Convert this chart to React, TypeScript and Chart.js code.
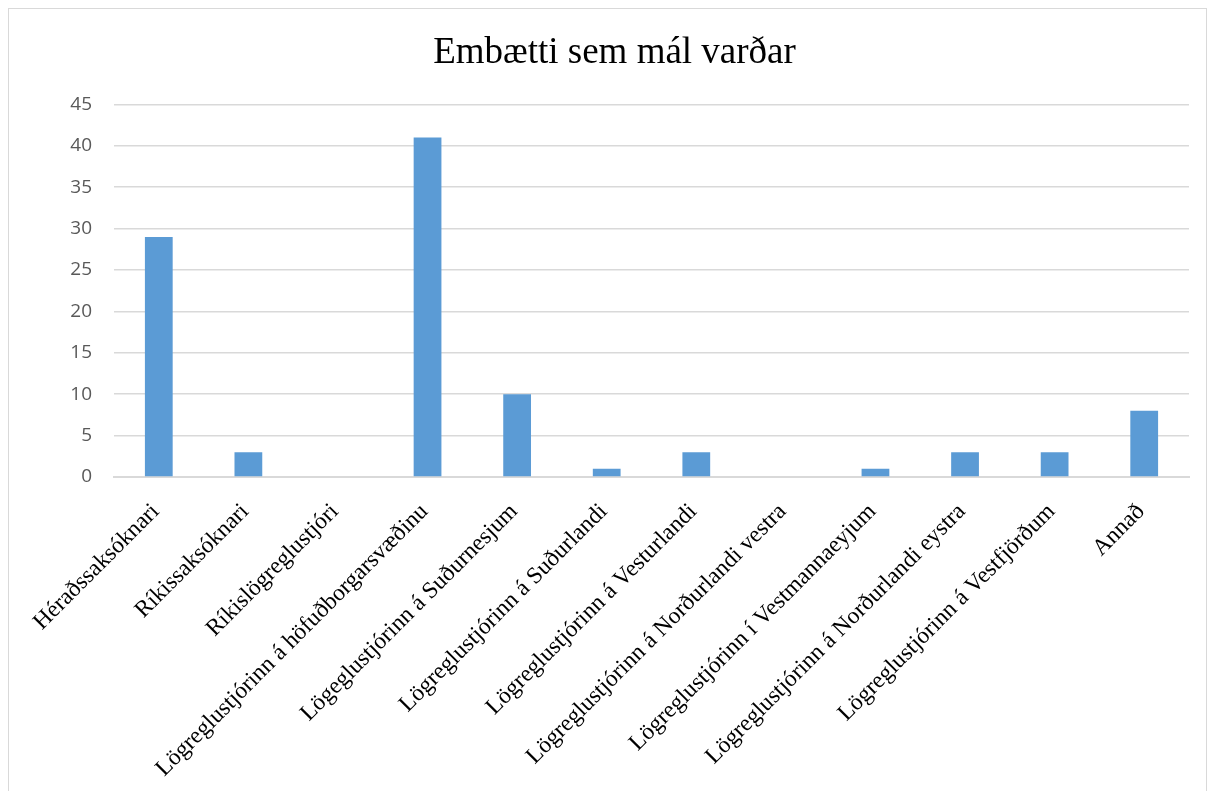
import React, { useEffect, useRef } from "react";
import { Chart, registerables } from "chart.js";

Chart.register(...registerables);

const titleText = "Embætti sem mál varðar";
const categories = [
  "Héraðssaksóknari",
  "Ríkissaksóknari",
  "Ríkislögreglustjóri",
  "Lögreglustjórinn á höfuðborgarsvæðinu",
  "Lögeglustjórinn á Suðurnesjum",
  "Lögreglustjórinn á Suðurlandi",
  "Lögreglustjórinn á Vesturlandi",
  "Lögreglustjórinn á Norðurlandi vestra",
  "Lögreglustjórinn í Vestmannaeyjum",
  "Lögreglustjórinn á Norðurlandi eystra",
  "Lögreglustjórinn á Vestfjörðum",
  "Annað",
];
const values = [29, 3, 0, 41, 10, 1, 3, 0, 1, 3, 3, 8];
const yMin = 0;
const yMax = 45;
const yStep = 5;

export default function App() {
  const ref = useRef<HTMLCanvasElement | null>(null);

  useEffect(() => {
    document.documentElement.style.overflow = "hidden";
    const canvas = ref.current;
    if (!canvas) return;
    const chart = new Chart(canvas, {
      type: "bar",
      data: {
        labels: categories,
        datasets: [
          {
            data: values,
            backgroundColor: "#5B9BD5",
            borderWidth: 0,
            barPercentage: 0.31,
            categoryPercentage: 1,
          },
        ],
      },
      options: {
        animation: false,
        responsive: false,
        devicePixelRatio: 1,
        layout: { padding: { left: 31, right: 17, top: 0, bottom: 0 } },
        plugins: {
          legend: { display: false },
          tooltip: { enabled: false },
          title: {
            display: true,
            text: titleText,
            color: "#000000",
            font: { family: "'Liberation Serif', 'Times New Roman', serif", size: 37, weight: "normal" },
            padding: { top: 22, bottom: 29 },
          },
        },
        scales: {
          x: {
            afterFit: (scale: any) => {
              scale.height = 313;
            },
            grid: { display: false, drawTicks: false },
            border: { display: true, color: "#d9d9d9", width: 2 },
            ticks: {
              color: "#000000",
              font: { family: "'Liberation Serif', 'Times New Roman', serif", size: 23.5 },
              minRotation: 45,
              maxRotation: 45,
              autoSkip: false,
              padding: 21,
              labelOffset: -3,
            },
          },
          y: {
            min: yMin,
            max: yMax,
            afterFit: (scale: any) => {
              scale.width = 74;
            },
            grid: { color: "#d9d9d9", lineWidth: 1.5, drawTicks: false },
            border: { display: false },
            ticks: {
              stepSize: yStep,
              color: "#595959",
              font: { family: "'Open Sans', 'Liberation Sans', sans-serif", size: 19 },
              padding: 22,
            },
          },
        },
      },
    });
    return () => chart.destroy();
  }, []);

  return (
    <div
      style={{
        width: 1199,
        height: 800,
        border: "1px solid #d9d9d9",
        boxSizing: "border-box",
        background: "#fff",
      }}
    >
      <canvas ref={ref} width={1197} height={781} style={{ display: "block" }} />
    </div>
  );
}
